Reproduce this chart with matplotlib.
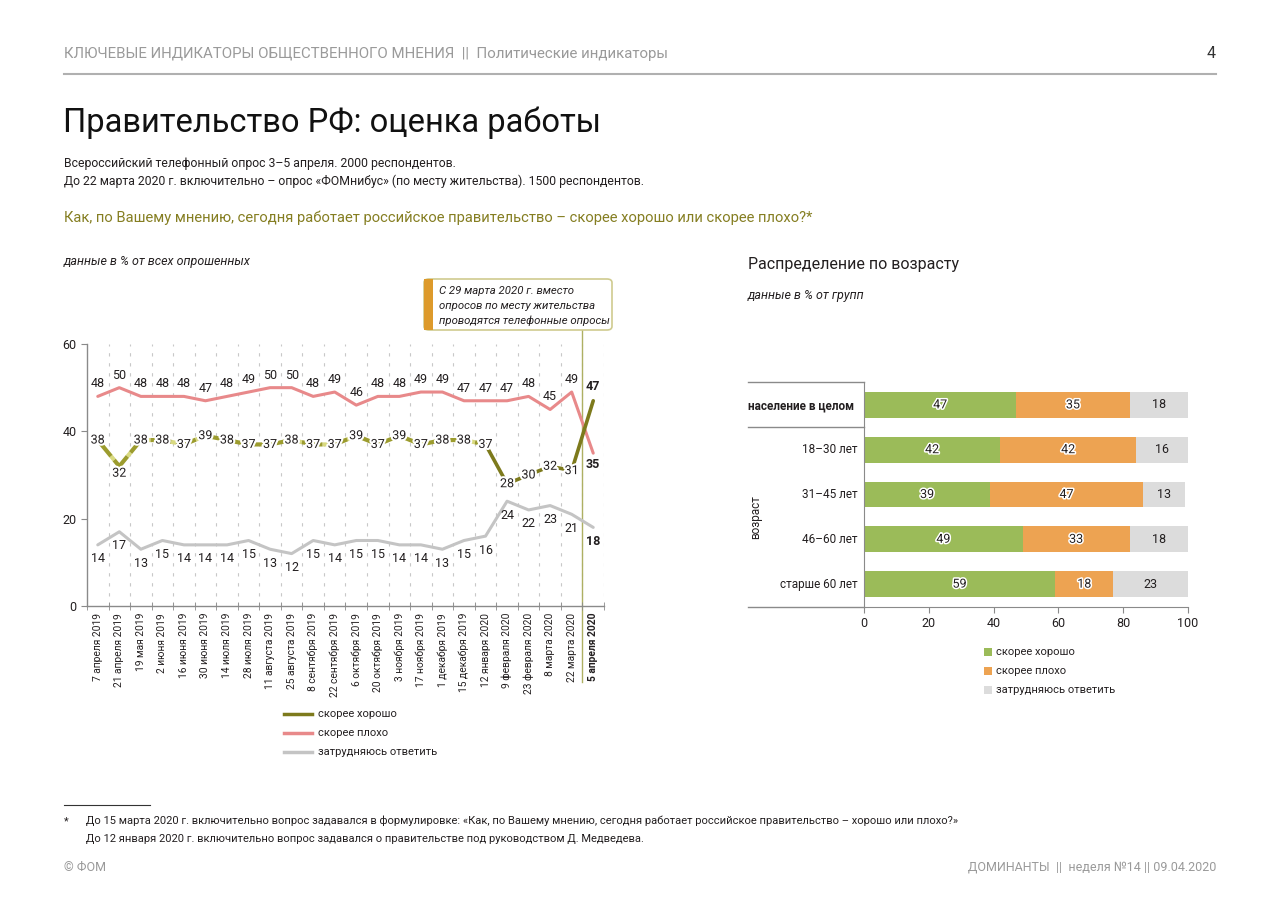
import matplotlib
matplotlib.use("Agg")
import matplotlib.pyplot as plt
import matplotlib.patheffects as pe
from matplotlib.patches import Rectangle, FancyBboxPatch
from matplotlib.lines import Line2D

plt.rcParams['font.family'] = ['Roboto', 'DejaVu Sans']

# ---------------- data ----------------
dates = ["7 апреля 2019", "21 апреля 2019", "19 мая 2019", "2 июня 2019", "16 июня 2019",
         "30 июня 2019", "14 июля 2019", "28 июля 2019", "11 августа 2019", "25 августа 2019",
         "8 сентября 2019", "22 сентября 2019", "6 октября 2019", "20 октября 2019",
         "3 ноября 2019", "17 ноября 2019", "1 декабря 2019", "15 декабря 2019",
         "12 января 2020", "9 февраля 2020", "23 февраля 2020", "8 марта 2020",
         "22 марта 2020", "5 апреля 2020"]
good = [38, 32, 38, 38, 37, 39, 38, 37, 37, 38, 37, 37, 39, 37, 39, 37, 38, 38, 37, 28, 30, 32, 31, 47]
bad = [48, 50, 48, 48, 48, 47, 48, 49, 50, 50, 48, 49, 46, 48, 48, 49, 49, 47, 47, 47, 48, 45, 49, 35]
dk = [14, 17, 13, 15, 14, 14, 14, 15, 13, 12, 15, 14, 15, 15, 14, 14, 13, 15, 16, 24, 22, 23, 21, 18]

groups = ["население в целом", "18–30 лет", "31–45 лет", "46–60 лет", "старше 60 лет"]
g_good = [47, 42, 39, 49, 59]
g_bad = [35, 42, 47, 33, 18]
g_dk = [18, 16, 13, 18, 23]

series_names = ["скорее хорошо", "скорее плохо", "затрудняюсь ответить"]

# ---------------- figure ----------------
W, H = 1280, 905
fig = plt.figure(figsize=(W / 100, H / 100), dpi=100)


def fx(px):
    return px / W


def fy(py):
    return 1 - py / H


TXT = '#231f20'
OLIVE = '#7d7a1c'
OLIVE_L = '#9c9c2e'
RED = '#e8898a'
GREY = '#c4c4c4'

# header
fig.text(fx(64), fy(54), "КЛЮЧЕВЫЕ ИНДИКАТОРЫ ОБЩЕСТВЕННОГО МНЕНИЯ  ||  Политические индикаторы",
         color='#9a9a9a', fontsize=10.8, va='center', ha='left')
fig.text(fx(1216), fy(54), "4", color='#333333', fontsize=11.5, va='center', ha='right')
fig.add_artist(Line2D([fx(64), fx(1216)], [fy(74), fy(74)], color='#b0b0b0', lw=1.5))

fig.text(fx(63), fy(123), "Правительство РФ: оценка работы", fontsize=23.5, color='#111111',
         va='center', ha='left')
fig.text(fx(64), fy(163), "Всероссийский телефонный опрос 3–5 апреля. 2000 респондентов.",
         fontsize=8.8, color=TXT, va='center')
fig.text(fx(64), fy(181), "До 22 марта 2020 г. включительно – опрос «ФОМнибус» (по месту жительства). 1500 респондентов.",
         fontsize=8.8, color=TXT, va='center')
fig.text(fx(64), fy(218), "Как, по Вашему мнению, сегодня работает российское правительство – скорее хорошо или скорее плохо?*",
         fontsize=10.6, color='#857e22', va='center')
fig.text(fx(64), fy(262), "данные в % от всех опрошенных", fontsize=9, style='italic',
         color=TXT, va='center')
fig.text(fx(748), fy(264), "Распределение по возрасту", fontsize=11.5, color=TXT, va='center')
fig.text(fx(748), fy(296), "данные в % от групп", fontsize=9, style='italic', color=TXT, va='center')

# ---------------- line chart ----------------
ax = fig.add_axes([fx(87), fy(606), fx(604) - fx(87), fy(344) - fy(606)])
n = len(dates)
x = list(range(n))
ax.set_xlim(-0.5, n - 0.5)
ax.set_ylim(0, 60)
for s in ['top', 'right']:
    ax.spines[s].set_visible(False)
for s in ['left', 'bottom']:
    ax.spines[s].set_color('#8a8a8a')
    ax.spines[s].set_linewidth(1)
ax.set_yticks([0, 20, 40, 60])
ax.tick_params(axis='y', labelsize=9, colors='#8a8a8a', labelcolor=TXT, length=4, direction='out')
ax.set_xticks(x)
ax.set_xticklabels(dates, rotation=90, fontsize=7.4, color=TXT)
ax.tick_params(axis='x', length=0, pad=5)
ax.get_xticklabels()[-1].set_fontweight('bold')
bounds = [i + 0.5 for i in range(-1, n)]
ax.set_xticks(bounds, minor=True)
ax.tick_params(axis='x', which='minor', length=6, direction='inout', color='#8a8a8a')
for b in bounds[1:]:
    ax.axvline(b, color='#c8c8c8', lw=0.8, ls=(0, (3, 6)), zorder=0)

# series lines
ax.plot(x, dk, color=GREY, lw=2.2, zorder=2, solid_capstyle='round')
ax.plot(x, bad, color=RED, lw=2.2, zorder=2, solid_capstyle='round')
ax.plot(x[:19], good[:19], color=OLIVE_L, lw=3, zorder=3, ls=(0, (5, 1.2)), gapcolor='#d9da80')
ax.plot(x[18:], good[18:], color=OLIVE, lw=2.6, zorder=3, solid_capstyle='round')

# vertical separator
ax.axvline(n - 1.5, ymin=-0.29, ymax=1.055, color='#aeb063', lw=1, clip_on=False, zorder=1)

# labels
halo = [pe.withStroke(linewidth=3, foreground='white')]
for i in range(n):
    last = (i == n - 1)
    fw = 'bold' if last else 'normal'
    fs = 9
    ax.annotate(str(bad[i]), (x[i], bad[i]), xytext=(0, -8 if last else 9), textcoords='offset points',
                ha='center', va='center', fontsize=fs, color=TXT, fontweight=fw, zorder=5)
    ax.annotate(str(dk[i]), (x[i], dk[i]), xytext=(0, -10), textcoords='offset points',
                ha='center', va='center', fontsize=fs, color=TXT, fontweight=fw, zorder=5)
    if last:
        ax.annotate(str(good[i]), (x[i], good[i]), xytext=(0, 10), textcoords='offset points',
                    ha='center', va='center', fontsize=fs, color=TXT, fontweight=fw, zorder=5)
    else:
        dy = -5 if i == 1 else 0
        ax.annotate(str(good[i]), (x[i], good[i]), xytext=(0, dy), textcoords='offset points',
                    ha='center', va='center', fontsize=fs, color=TXT, zorder=5, path_effects=halo)

# annotation box
box = FancyBboxPatch((fx(424), fy(330)), fx(612) - fx(424), fy(279) - fy(330),
                     boxstyle='round,pad=0,rounding_size=0.004', transform=fig.transFigure,
                     fc='white', ec='#cfcb8f', lw=1.2)
fig.add_artist(box)
fig.add_artist(Rectangle((fx(424), fy(330)), fx(433) - fx(424), fy(279) - fy(330),
                         transform=fig.transFigure, fc='#dd9a2b', ec='none'))
for k, t in enumerate(["С 29 марта 2020 г. вместо", "опросов по месту жительства",
                       "проводятся телефонные опросы"]):
    fig.text(fx(439), fy(291 + 15 * k), t, fontsize=8.2, style='italic', color=TXT, va='center')

# line legend
for k, (name, col) in enumerate(zip(series_names, [OLIVE, RED, GREY])):
    yy = fy(714 + 19 * k)
    fig.add_artist(Line2D([fx(284), fx(312)], [yy, yy], color=col, lw=2.5))
    fig.text(fx(318), yy, name, fontsize=8, color=TXT, va='center')

# ---------------- bar chart ----------------
GREEN_B = '#9bbb59'
ORANGE_B = '#eda352'
GREY_B = '#dcdcdc'
bx = fig.add_axes([fx(864), fy(607), fx(1188) - fx(864), fy(382) - fy(607)])
yb = list(range(len(groups)))
lefts2 = [a + b for a, b in zip(g_good, g_bad)]
bx.barh(yb, g_good, height=0.58, color=GREEN_B)
bx.barh(yb, g_bad, left=g_good, height=0.58, color=ORANGE_B)
bx.barh(yb, g_dk, left=lefts2, height=0.58, color=GREY_B)
bx.set_xlim(0, 100)
bx.set_ylim(len(groups) - 0.49, -0.51)
for s in ['top', 'right']:
    bx.spines[s].set_visible(False)
for s in ['left', 'bottom']:
    bx.spines[s].set_color('#8a8a8a')
bx.set_yticks([])
bx.set_xticks([0, 20, 40, 60, 80, 100])
bx.tick_params(axis='x', labelsize=9, colors='#8a8a8a', labelcolor=TXT, length=4)
glow = [pe.withStroke(linewidth=2.2, foreground='white')]
for i in yb:
    bx.text(g_good[i] / 2, i, str(g_good[i]), ha='center', va='center', fontsize=9,
            color=TXT, path_effects=glow)
    bx.text(g_good[i] + g_bad[i] / 2, i, str(g_bad[i]), ha='center', va='center', fontsize=9,
            color=TXT, path_effects=glow)
    bx.text(lefts2[i] + g_dk[i] / 2, i, str(g_dk[i]), ha='center', va='center', fontsize=9,
            color=TXT)
# separators extending left
xl = (748 - 864) / (1188 - 864)
for yv in [-0.51, 0.5]:
    bx.plot([xl, 0], [yv, yv], transform=bx.get_yaxis_transform(), color='#8a8a8a', lw=1, clip_on=False)
bx.plot([xl, 0], [len(groups) - 0.49] * 2, transform=bx.get_yaxis_transform(), color='#8a8a8a', lw=1,
        clip_on=False)
# group labels
fig.text(fx(748), fy(406), groups[0], fontsize=8.5, fontweight='bold', color=TXT, va='center', ha='left')
for i in range(1, len(groups)):
    bx.text(-0.02, i, groups[i], transform=bx.get_yaxis_transform(), ha='right', va='center',
            fontsize=8.5, color=TXT)
fig.text(fx(756), fy(517), "возраст", rotation=90, fontsize=8.5, color=TXT, va='center', ha='center')

# bar legend
for k, (name, col) in enumerate(zip(series_names, [GREEN_B, ORANGE_B, GREY_B])):
    yy = 652 + 19 * k
    fig.add_artist(Rectangle((fx(984), fy(yy + 4)), fx(992) - fx(984), fy(yy - 4) - fy(yy + 4),
                             transform=fig.transFigure, fc=col, ec='none'))
    fig.text(fx(996), fy(yy), name, fontsize=8, color=TXT, va='center')

# ---------------- footer ----------------
fig.add_artist(Line2D([fx(64), fx(150)], [fy(805), fy(805)], color='#333333', lw=0.8))
fig.text(fx(64), fy(821), "*", fontsize=8, color=TXT, va='center')
fig.text(fx(86), fy(821), "До 15 марта 2020 г. включительно вопрос задавался в формулировке: «Как, по Вашему мнению, сегодня работает российское правительство – хорошо или плохо?»",
         fontsize=8, color=TXT, va='center')
fig.text(fx(86), fy(839), "До 12 января 2020 г. включительно вопрос задавался о правительстве под руководством Д. Медведева.",
         fontsize=8, color=TXT, va='center')
fig.text(fx(64), fy(867), "© ФОМ", fontsize=9, color='#9a9a9a', va='center')
fig.text(fx(1216), fy(867), "ДОМИНАНТЫ  ||  неделя №14 || 09.04.2020", fontsize=9, color='#9a9a9a',
         va='center', ha='right')

fig.savefig("out.png", dpi=100, facecolor='white')
